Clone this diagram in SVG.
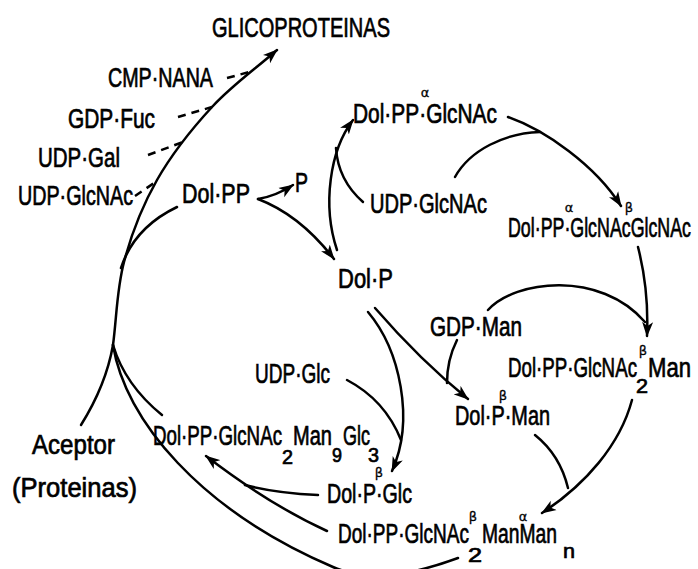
<svg xmlns="http://www.w3.org/2000/svg" width="698" height="569" viewBox="0 0 698 569">
<style>
.t{font-family:"Liberation Sans Narrow","Liberation Sans",Arial,sans-serif;font-size:27px;fill:#000;stroke:#000;stroke-width:0.7}
.s{font-size:20px}
.g{font-family:"DejaVu Sans","Liberation Sans",sans-serif;font-size:13px;fill:#000;text-anchor:middle;stroke:#000;stroke-width:0.3}
.c{fill:none;stroke:#000;stroke-width:2.5;stroke-linecap:round}
.d{fill:none;stroke:#000;stroke-width:2.5;stroke-dasharray:8 6}
</style>
<defs>
<marker id="ah" markerUnits="userSpaceOnUse" markerWidth="18" markerHeight="12" refX="14" refY="6" orient="auto">
<path d="M0,0.5 L15,6 L0,11.5 L4,6 z" fill="#000"/>
</marker>
</defs>
<rect width="698" height="569" fill="#fff"/>
<g id="connectors">
<path class="c" marker-end="url(#ah)" d="M113,345 C116.7,317.3 116.7,289.5 124,262 C131.3,234.5 142.3,205.8 157,180 C171.7,154.2 192,128.7 212,107 C232,85.3 255.3,69 277,50"/>
<path class="d" d="M227,78 L253,71"/>
<path class="d" d="M178,117 L212,107"/>
<path class="d" d="M148,155 L183,142"/>
<path class="d" d="M135,196 L157,181"/>
<path class="c" d="M177,207 C150,220 130,240 121,268"/>
<path class="c" d="M113,345 Q106,385 81,425"/>
<path class="c" d="M113,345 Q125,385 162,415"/>
<path class="c" d="M113,345 C125,420 200,510 333,567 C373,584 420,572 458,558"/>
<path class="c" marker-end="url(#ah)" d="M258,199 Q276,196 293,185"/>
<path class="c" marker-end="url(#ah)" d="M258,199 Q300,215 334,259"/>
<path class="c" marker-end="url(#ah)" d="M337,250 C322,205 330,150 353,120"/>
<path class="c" d="M363,202 Q338,180 336,148"/>
<path class="c" marker-end="url(#ah)" d="M508,117 C545,130 595,165 621,206"/>
<path class="c" d="M455,177 C470,150 505,133 540,132"/>
<path class="c" marker-end="url(#ah)" d="M638,247 Q649,290 647,336"/>
<path class="c" d="M488,310 C515,280 600,270 645,322"/>
<path class="c" marker-end="url(#ah)" d="M375,308 Q420,360 468,399"/>
<path class="c" d="M457,340 Q447,360 447,383"/>
<path class="c" marker-end="url(#ah)" d="M368,312 C400,350 415,420 392,471"/>
<path class="c" d="M347,380 Q385,400 401,440"/>
<path class="c" d="M535,435 Q560,455 568,488"/>
<path class="c" marker-end="url(#ah)" d="M632,400 C620,445 585,485 542,513"/>
<path class="c" marker-end="url(#ah)" d="M327,531 Q270,505 206,456"/>
<path class="c" d="M318,495 Q275,493 245,485"/>
</g>
<g id="glicoproteinas"><text class="t" x="212" y="37" textLength="178" lengthAdjust="spacingAndGlyphs">GLICOPROTEINAS</text></g>
<g id="cmp-nana"><text class="t" x="108" y="87" textLength="105" lengthAdjust="spacingAndGlyphs">CMP·NANA</text></g>
<g id="gdp-fuc"><text class="t" x="68" y="128" textLength="87" lengthAdjust="spacingAndGlyphs">GDP·Fuc</text></g>
<g id="udp-gal"><text class="t" x="38" y="167" textLength="82" lengthAdjust="spacingAndGlyphs">UDP·Gal</text></g>
<g id="udp-glcnac-left"><text class="t" x="18" y="205" textLength="115" lengthAdjust="spacingAndGlyphs">UDP·GlcNAc</text></g>
<g id="dol-pp"><text class="t" x="182" y="203" textLength="68" lengthAdjust="spacingAndGlyphs">Dol·PP</text></g>
<g id="p"><text class="t" x="295" y="192" textLength="13" lengthAdjust="spacingAndGlyphs">P</text></g>
<g id="dol-pp-glcnac">
<text class="t" x="353" y="123" textLength="144" lengthAdjust="spacingAndGlyphs">Dol·PP·GlcNAc</text>
<text class="g" x="425" y="97">α</text>
</g>
<g id="udp-glcnac-center"><text class="t" x="370" y="213" textLength="117" lengthAdjust="spacingAndGlyphs">UDP·GlcNAc</text></g>
<g id="dol-pp-glcnac-glcnac">
<text class="t" x="508" y="237" textLength="183" lengthAdjust="spacingAndGlyphs">Dol·PP·GlcNAcGlcNAc</text>
<text class="g" x="569" y="212">α</text>
<text class="g" x="629" y="212">β</text>
</g>
<g id="dol-p"><text class="t" x="338" y="288" textLength="55" lengthAdjust="spacingAndGlyphs">Dol·P</text></g>
<g id="gdp-man"><text class="t" x="430" y="336" textLength="92" lengthAdjust="spacingAndGlyphs">GDP·Man</text></g>
<g id="dol-pp-glcnac2-man">
<text class="t"><tspan x="508" y="377" textLength="129" lengthAdjust="spacingAndGlyphs">Dol·PP·GlcNAc</tspan><tspan class="s" x="636" y="393" textLength="12" lengthAdjust="spacingAndGlyphs">2</tspan><tspan x="648" y="377" textLength="43" lengthAdjust="spacingAndGlyphs">Man</tspan></text>
<text class="g" x="643" y="355">β</text>
</g>
<g id="dol-p-man">
<text class="t" x="455" y="425" textLength="95" lengthAdjust="spacingAndGlyphs">Dol·P·Man</text>
<text class="g" x="503" y="400">β</text>
</g>
<g id="udp-glc"><text class="t" x="255" y="383" textLength="75" lengthAdjust="spacingAndGlyphs">UDP·Glc</text></g>
<g id="dol-pp-glcnac2-man9-glc3">
<text class="t"><tspan x="153" y="445" textLength="129" lengthAdjust="spacingAndGlyphs">Dol·PP·GlcNAc</tspan><tspan class="s" x="282" y="464" textLength="11" lengthAdjust="spacingAndGlyphs">2</tspan><tspan x="293" y="445" textLength="39" lengthAdjust="spacingAndGlyphs">Man</tspan><tspan class="s" x="332" y="462" textLength="10" lengthAdjust="spacingAndGlyphs">9</tspan><tspan x="343" y="445" textLength="27" lengthAdjust="spacingAndGlyphs">Glc</tspan><tspan class="s" x="368" y="462" textLength="11" lengthAdjust="spacingAndGlyphs">3</tspan></text>
</g>
<g id="dol-p-glc">
<text class="t" x="327" y="503" textLength="85" lengthAdjust="spacingAndGlyphs">Dol·P·Glc</text>
<text class="g" x="379" y="477">β</text>
</g>
<g id="dol-pp-glcnac2-man-man-n">
<text class="t"><tspan x="338" y="543" textLength="131" lengthAdjust="spacingAndGlyphs">Dol·PP·GlcNAc</tspan><tspan class="s" x="468" y="562" textLength="14" lengthAdjust="spacingAndGlyphs">2</tspan><tspan x="482" y="543" textLength="75" lengthAdjust="spacingAndGlyphs">ManMan</tspan><tspan class="s" x="563" y="558" textLength="12" lengthAdjust="spacingAndGlyphs">n</tspan></text>
<text class="g" x="473" y="521">β</text>
<text class="g" x="523" y="521">α</text>
</g>
<g id="aceptor">
<text class="t" x="32" y="454" textLength="83" lengthAdjust="spacingAndGlyphs">Aceptor</text>
<text class="t" x="12" y="497" textLength="125" lengthAdjust="spacingAndGlyphs">(Proteinas)</text>
</g>
</svg>
